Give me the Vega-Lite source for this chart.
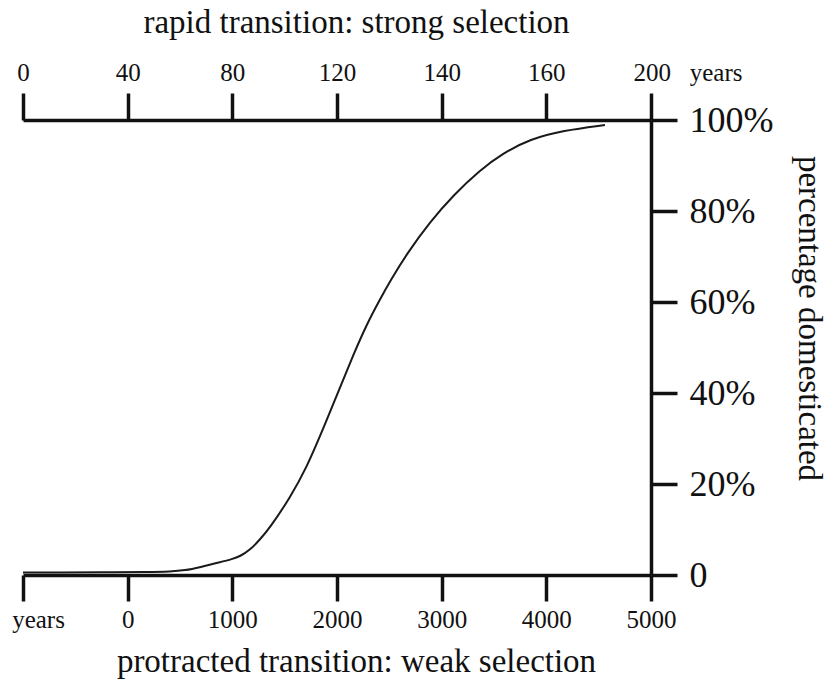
{
  "$schema": "https://vega.github.io/schema/vega-lite/v6.json",
  "width": 628,
  "height": 455,
  "autosize": {"type": "none"},
  "padding": {"left": 23, "top": 120, "right": 181, "bottom": 106},
  "background": "white",
  "config": {
    "view": {"stroke": null},
    "axis": {
      "grid": false,
      "domainColor": "#111111",
      "tickColor": "#111111",
      "labelColor": "#111111",
      "titleColor": "#111111",
      "domainWidth": 3.5,
      "tickWidth": 3.5,
      "labelFlush": false,
      "labelOverlap": false,
      "labelBound": false
    }
  },
  "data": {
    "values": [
      {"year": -1000, "pct": 0.55},
      {"year": -647, "pct": 0.57},
      {"year": -264, "pct": 0.6},
      {"year": 213, "pct": 0.65},
      {"year": 404, "pct": 0.75},
      {"year": 548, "pct": 1.0},
      {"year": 691, "pct": 1.7},
      {"year": 882, "pct": 2.8},
      {"year": 1000, "pct": 3.5},
      {"year": 1073, "pct": 4.1},
      {"year": 1169, "pct": 5.5},
      {"year": 1264, "pct": 7.8},
      {"year": 1360, "pct": 10.4},
      {"year": 1551, "pct": 17.0},
      {"year": 1710, "pct": 23.6},
      {"year": 1869, "pct": 32.2},
      {"year": 2029, "pct": 41.2},
      {"year": 2156, "pct": 48.4},
      {"year": 2284, "pct": 55.1},
      {"year": 2411, "pct": 60.6},
      {"year": 2506, "pct": 64.5},
      {"year": 2666, "pct": 70.6},
      {"year": 2888, "pct": 77.6},
      {"year": 3108, "pct": 83.4},
      {"year": 3366, "pct": 89.0},
      {"year": 3586, "pct": 92.7},
      {"year": 3844, "pct": 95.8},
      {"year": 4159, "pct": 97.7},
      {"year": 4560, "pct": 98.9}
    ]
  },
  "layer": [
    {
      "mark": {"type": "line", "interpolate": "basis", "color": "#1a1a1a", "strokeWidth": 2},
      "encoding": {
        "x": {
          "field": "year",
          "type": "quantitative",
          "scale": {"domain": [-1000, 5000], "nice": false, "zero": false},
          "axis": {
            "orient": "bottom",
            "values": [-1000, 0, 1000, 2000, 3000, 4000, 5000],
            "labelExpr": "datum.value == -1000 ? 'years' : format(datum.value, 'd')",
            "labelOffset": {"condition": {"test": "datum.value == -1000", "value": 15}, "value": 0},
            "tickSize": 26,
            "labelFont": "Liberation Serif",
            "labelFontSize": 25,
            "labelPadding": 6,
            "title": "protracted transition: weak selection",
            "titleFont": "Liberation Serif",
            "titleFontSize": 33,
            "titleFontWeight": "normal",
            "titleX": 333,
            "titleY": 96,
            "titleAlign": "center",
            "titleBaseline": "alphabetic"
          }
        },
        "y": {
          "field": "pct",
          "type": "quantitative",
          "scale": {"domain": [0, 100], "nice": false},
          "axis": {
            "orient": "right",
            "values": [0, 20, 40, 60, 80, 100],
            "labelExpr": "datum.value == 0 ? '0' : datum.value + '%'",
            "tickSize": 26,
            "labelFont": "Liberation Serif",
            "labelFontSize": 36,
            "labelPadding": 12,
            "title": "percentage domesticated",
            "titleFont": "Liberation Serif",
            "titleFontSize": 33,
            "titleFontWeight": "normal",
            "titleAngle": 90,
            "titleX": 157,
            "titleY": 198,
            "titleAlign": "center",
            "titleBaseline": "middle"
          }
        }
      }
    },
    {
      "mark": {"type": "line", "strokeOpacity": 0},
      "encoding": {
        "x": {
          "field": "year",
          "type": "quantitative",
          "scale": {"domain": [-1000, 5000], "nice": false, "zero": false},
          "axis": {
            "orient": "top",
            "values": [-1000, 0, 1000, 2000, 3000, 4000, 5000],
            "labelExpr": "datum.value == -1000 ? '0' : datum.value == 0 ? '40' : datum.value == 1000 ? '80' : datum.value == 2000 ? '120' : datum.value == 3000 ? '140' : datum.value == 4000 ? '160' : '200\u00a0\u00a0\u00a0years'",
            "labelAlign": {"condition": {"test": "datum.value == 5000", "value": "left"}, "value": "center"},
            "labelOffset": {"condition": {"test": "datum.value == 5000", "value": -18}, "value": 0},
            "tickSize": 27,
            "labelFont": "Liberation Serif",
            "labelFontSize": 25,
            "labelPadding": 8,
            "title": "rapid transition: strong selection",
            "titleFont": "Liberation Serif",
            "titleFontSize": 33,
            "titleFontWeight": "normal",
            "titleX": 333,
            "titleY": -88,
            "titleAlign": "center",
            "titleBaseline": "alphabetic"
          }
        },
        "y": {"field": "pct", "type": "quantitative"}
      }
    }
  ],
  "resolve": {"axis": {"x": "independent"}}
}
